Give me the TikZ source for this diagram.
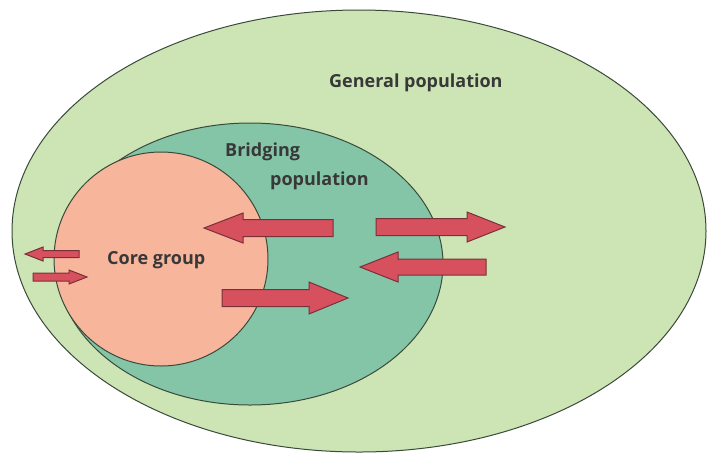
\documentclass[tikz,border=0pt]{standalone}
\usepackage{fontspec}
\setmainfont{Open Sans}
\definecolor{general}{HTML}{CDE5B5}
\definecolor{bridging}{HTML}{84C5A8}
\definecolor{core}{HTML}{F7B59C}
\definecolor{arrowfill}{HTML}{D6505E}
\definecolor{arrowline}{HTML}{7A3038}
\definecolor{labeltext}{HTML}{383838}
\definecolor{edge}{HTML}{3A4A3A}
\tikzset{
  popline/.style={draw=edge, line width=1pt},
  flow/.style={fill=arrowfill, draw=arrowline, line width=1pt, line join=miter},
  label/.style={font=\bfseries\fontsize{18}{20}\selectfont, text=labeltext, inner sep=0pt, anchor=base west}
}
% block arrow: tail x, head base x, tip x, y, shaft half width, head half width
\newcommand{\flowarrow}[6]{%
  \draw[flow] ({#1},{#4-#5}) -- ({#2},{#4-#5}) -- ({#2},{#4-#6}) -- ({#3},{#4})
    -- ({#2},{#4+#6}) -- ({#2},{#4+#5}) -- ({#1},{#4+#5}) -- cycle;}
\begin{document}
\begin{tikzpicture}[x=1pt,y=-1pt]
  \useasboundingbox[fill=white] (0,0) rectangle (711,459);

  % populations
  \draw[popline, fill=general]  (359,231) ellipse [x radius=347, y radius=221];
  \draw[popline, fill=bridging] (250,264) ellipse [x radius=193, y radius=141];
  \draw[popline, fill=core]     (161,259) circle [radius=107];

  % labels
  \node[label] (general) at (329,87)  {General population};
  \node[label] (bridge1) at (225,156) {Bridging};
  \node[label] (bridge2) at (270,185) {population};
  \node[label] (coregrp) at (107,264) {Core group};

  % flows
  \flowarrow{333}{243}{204}{228}{8.5}{15}
  \flowarrow{222}{309}{348}{298}{8.5}{16}
  \flowarrow{376}{467}{505}{227}{8.5}{15}
  \flowarrow{486}{398}{360}{267}{8}{15}
  \flowarrow{79}{43}{25}{254}{3.5}{7}
  \flowarrow{33}{69}{87}{277}{4}{7}
\end{tikzpicture}
\end{document}
